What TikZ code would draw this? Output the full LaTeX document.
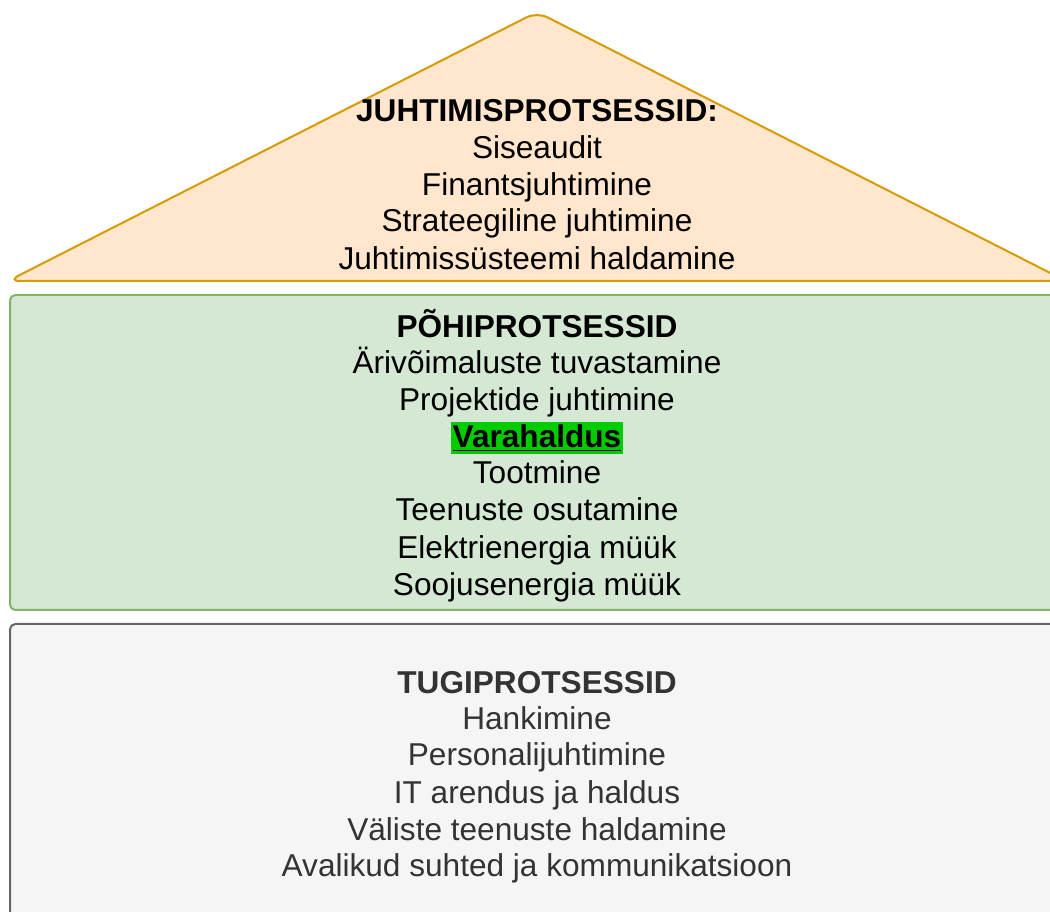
\documentclass[tikz,border=0pt]{standalone}
\usepackage{fontspec}
\setmainfont{Liberation Sans}
\definecolor{peachfill}{HTML}{FFE6CC}
\definecolor{peachline}{HTML}{D79B00}
\definecolor{greenfill}{HTML}{D5E8D4}
\definecolor{greenline}{HTML}{82B366}
\definecolor{greyfill}{HTML}{F5F5F5}
\definecolor{greyline}{HTML}{666666}
\definecolor{greytext}{HTML}{333333}
\definecolor{marker}{HTML}{00CC00}
\tikzset{
  txt/.style={anchor=base, inner sep=0pt, font=\fontsize{23.7pt}{28pt}\selectfont},
  head/.style={txt, font=\fontsize{23.7pt}{28pt}\selectfont\bfseries},
}
\begin{document}
\begin{tikzpicture}[x=0.75pt,y=-0.75pt]
\useasboundingbox (0,0) rectangle (1050,912);
\begin{scope}
\clip (0,0) rectangle (1050,912);
% roof: management processes
\draw[line width=1.5pt, peachline, fill=peachfill, rounded corners=9pt]
  (8,281) -- (537,12) -- (1066,281) -- cycle;
% core processes
\draw[line width=1.5pt, greenline, fill=greenfill, rounded corners=4pt]
  (10,295) rectangle (1070,610);
% support processes
\draw[line width=1.5pt, greyline, fill=greyfill, rounded corners=4pt]
  (10,624) rectangle (1070,940);
\end{scope}

% management processes
\node[head] (j0) at (537,122) {JUHTIMISPROTSESSID:};
\node[txt]  (j1) at (537,159) {Siseaudit};
\node[txt]  (j2) at (537,196) {Finantsjuhtimine};
\node[txt]  (j3) at (537,232) {Strateegiline juhtimine};
\node[txt]  (j4) at (537,270) {Juhtimissüsteemi haldamine};

% core processes
\node[head] (p0) at (537,338) {PÕHIPROTSESSID};
\node[txt]  (p1) at (537,374) {Ärivõimaluste tuvastamine};
\node[txt]  (p2) at (537,411) {Projektide juhtimine};
\node[txt, fill=marker, inner xsep=1.5pt, inner ysep=2pt, font=\fontsize{23.7pt}{28pt}\selectfont\bfseries]
            (p3) at (537,448) {\underline{Varahaldus}};
\node[txt]  (p4) at (537,484) {Tootmine};
\node[txt]  (p5) at (537,521) {Teenuste osutamine};
\node[txt]  (p6) at (537,559) {Elektrienergia müük};
\node[txt]  (p7) at (537,595) {Soojusenergia müük};

% support processes
\begin{scope}[every node/.append style={text=greytext}]
\node[head] (t0) at (537,693) {TUGIPROTSESSID};
\node[txt]  (t1) at (537,729) {Hankimine};
\node[txt]  (t2) at (537,765) {Personalijuhtimine};
\node[txt]  (t3) at (537,803) {IT arendus ja haldus};
\node[txt]  (t4) at (537,840) {Väliste teenuste haldamine};
\node[txt]  (t5) at (537,876) {Avalikud suhted ja kommunikatsioon};
\end{scope}
\end{tikzpicture}
\end{document}
